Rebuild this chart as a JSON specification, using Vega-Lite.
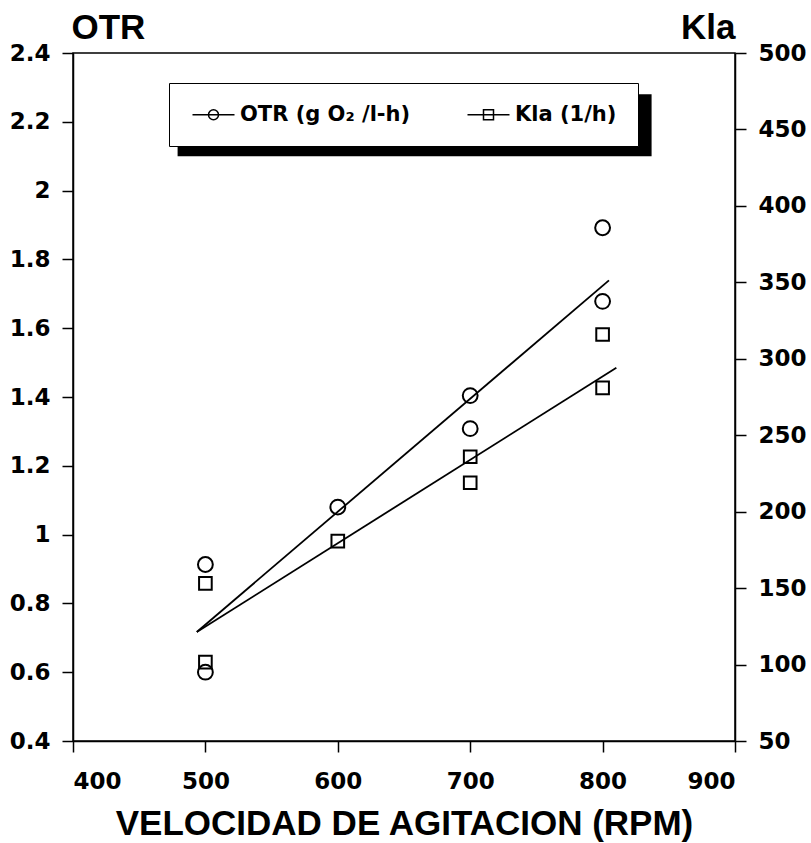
{
  "$schema": "https://vega.github.io/schema/vega-lite/v6.json",
  "width": 662,
  "height": 688,
  "autosize": {"type": "none"},
  "padding": {"left": 73, "top": 53, "right": 76, "bottom": 102},
  "background": "white",
  "config": {
    "view": {"stroke": "black", "strokeWidth": 1.5},
    "axis": {
      "grid": false,
      "domainColor": "black",
      "domainWidth": 1.5,
      "tickColor": "black",
      "tickWidth": 1.5,
      "tickSize": 11,
      "labelFont": "DejaVu Sans",
      "labelFontWeight": "bold",
      "labelFontSize": 23,
      "labelColor": "black",
      "titleColor": "black",
      "titleFont": "Liberation Sans",
      "titleFontWeight": "bold",
      "titleFontSize": 35,
      "labelOverlap": false
    }
  },
  "datasets": {
    "pts": [
      {"rpm": 500, "series": "OTR", "value": 0.913},
      {"rpm": 500, "series": "OTR", "value": 0.600},
      {"rpm": 600, "series": "OTR", "value": 1.080},
      {"rpm": 700, "series": "OTR", "value": 1.404},
      {"rpm": 700, "series": "OTR", "value": 1.308},
      {"rpm": 800, "series": "OTR", "value": 1.892},
      {"rpm": 800, "series": "OTR", "value": 1.678},
      {"rpm": 500, "series": "Kla", "value": 153.1},
      {"rpm": 500, "series": "Kla", "value": 101.6},
      {"rpm": 600, "series": "Kla", "value": 180.7},
      {"rpm": 700, "series": "Kla", "value": 235.9},
      {"rpm": 700, "series": "Kla", "value": 218.9},
      {"rpm": 800, "series": "Kla", "value": 315.9},
      {"rpm": 800, "series": "Kla", "value": 281.0}
    ],
    "fit": [
      {"rpm": 493.5, "series": "OTR", "value": 0.717},
      {"rpm": 804.8, "series": "OTR", "value": 1.739},
      {"rpm": 493.5, "series": "Kla", "value": 121.3},
      {"rpm": 810.4, "series": "Kla", "value": 294.1}
    ],
    "shadow": [
      {"rpm_from": 479, "rpm_to": 837, "otr_top": 2.28, "otr_bottom": 2.1}
    ]
  },
  "layer": [
    {
      "layer": [
        {
          "data": {"name": "shadow"},
          "mark": {"type": "rect", "color": "black"},
          "encoding": {
            "x": {"field": "rpm_from", "type": "quantitative", "scale": {"domain": [400, 900], "nice": false, "zero": false}},
            "x2": {"field": "rpm_to"},
            "y": {"field": "otr_top", "type": "quantitative", "scale": {"domain": [0.4, 2.4], "nice": false, "zero": false}},
            "y2": {"field": "otr_bottom"}
          }
        },
        {
          "data": {"name": "fit"},
          "transform": [{"filter": "datum.series == 'OTR'"}],
          "mark": {"type": "line", "color": "black", "strokeWidth": 1.8},
          "encoding": {
            "x": {"field": "rpm", "type": "quantitative", "scale": {"domain": [400, 900], "nice": false, "zero": false}},
            "y": {"field": "value", "type": "quantitative", "scale": {"domain": [0.4, 2.4], "nice": false, "zero": false}}
          }
        },
        {
          "data": {"name": "pts"},
          "transform": [{"filter": "false"}],
          "mark": {"type": "point", "filled": false, "color": "black", "strokeWidth": 1.5},
          "encoding": {
            "x": {"field": "rpm", "type": "quantitative", "scale": {"domain": [400, 900], "nice": false, "zero": false}},
            "y": {"field": "value", "type": "quantitative", "scale": {"domain": [0.4, 2.4], "nice": false, "zero": false}},
            "shape": {
              "field": "series", "type": "nominal",
              "scale": {
                "domain": ["OTR", "Kla"],
                "range": [
                  "M-1.6,0L6.8,0M3.6,0A1,1,0,1,1,1.6,0A1,1,0,1,1,3.6,0Z",
                  "M-1.6,0L6.8,0M1.6,-1L3.6,-1L3.6,1L1.6,1Z"
                ]
              },
              "legend": {
                "title": null,
                "orient": "none",
                "legendX": 96,
                "legendY": 30,
                "direction": "horizontal",
                "fillColor": "white",
                "strokeColor": "black",
                "padding": 21,
                "labelFont": "DejaVu Sans",
                "labelFontWeight": "bold",
                "labelFontSize": 21,
                "labelColor": "black",
                "labelLimit": 400,
                "labelOffset": 29,
                "columnPadding": 53,
                "symbolSize": 100,
                "symbolOpacity": 1,
                "symbolStrokeWidth": 1.5,
                "symbolStrokeColor": "black",
                "symbolFillColor": "transparent",
                "labelExpr": "datum.value == 'OTR' ? 'OTR (g O₂ /l-h)' : 'Kla (1/h)'"
              }
            }
          }
        },
        {
          "data": {"name": "pts"},
          "transform": [{"filter": "datum.series == 'OTR'"}],
          "mark": {"type": "point", "shape": "circle", "filled": false, "color": "black", "strokeWidth": 2, "size": 220, "opacity": 1},
          "encoding": {
            "x": {
              "field": "rpm", "type": "quantitative",
              "scale": {"domain": [400, 900], "nice": false, "zero": false},
              "axis": {
                "orient": "bottom",
                "values": [400, 500, 600, 700, 800, 900],
                "labelPadding": 36,
                "labelBaseline": "alphabetic",
                "title": "VELOCIDAD DE AGITACION (RPM)",
                "titleY": 93,
                "titleBaseline": "alphabetic"
              }
            },
            "y": {
              "field": "value", "type": "quantitative",
              "scale": {"domain": [0.4, 2.4], "nice": false, "zero": false},
              "axis": {
                "orient": "left",
                "values": [0.4, 0.6, 0.8, 1, 1.2, 1.4, 1.6, 1.8, 2, 2.2, 2.4],
                "format": "~g",
                "labelPadding": 12,
                "title": "OTR",
                "titleAngle": 0,
                "titleX": -2,
                "titleY": -15,
                "titleAlign": "left",
                "titleBaseline": "alphabetic"
              }
            }
          }
        }
      ]
    },
    {
      "layer": [
        {
          "data": {"name": "fit"},
          "transform": [{"filter": "datum.series == 'Kla'"}],
          "mark": {"type": "line", "color": "black", "strokeWidth": 1.8},
          "encoding": {
            "x": {"field": "rpm", "type": "quantitative", "scale": {"domain": [400, 900], "nice": false, "zero": false}},
            "y": {"field": "value", "type": "quantitative", "scale": {"domain": [50, 500], "nice": false, "zero": false}}
          }
        },
        {
          "data": {"name": "pts"},
          "transform": [{"filter": "datum.series == 'Kla'"}],
          "mark": {"type": "point", "shape": "square", "filled": false, "color": "black", "strokeWidth": 2, "size": 160, "opacity": 1},
          "encoding": {
            "x": {"field": "rpm", "type": "quantitative", "scale": {"domain": [400, 900], "nice": false, "zero": false}},
            "y": {
              "field": "value", "type": "quantitative",
              "scale": {"domain": [50, 500], "nice": false, "zero": false},
              "axis": {
                "orient": "right",
                "values": [50, 100, 150, 200, 250, 300, 350, 400, 450, 500],
                "labelPadding": 12,
                "title": "Kla",
                "titleAngle": 0,
                "titleX": 0,
                "titleY": -15,
                "titleAlign": "right",
                "titleBaseline": "alphabetic"
              }
            }
          }
        }
      ]
    }
  ],
  "resolve": {"scale": {"y": "independent"}, "axis": {"y": "independent"}}
}
